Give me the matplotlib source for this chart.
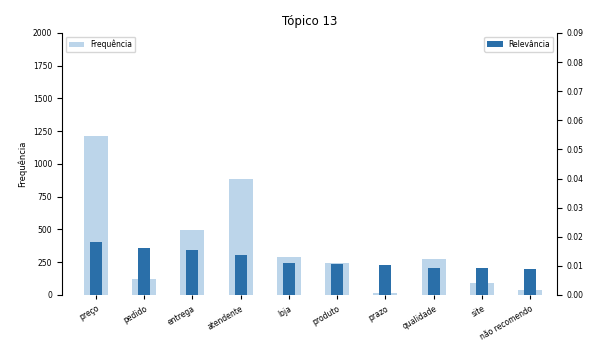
import matplotlib
matplotlib.use("Agg")
import matplotlib.pyplot as plt
import numpy as np

palavras = ["preço", "pedido", "entrega", "atendente", "loja", "produto", "prazo", "qualidade", "site", "não recomendo"]
frequencia = [1215, 120, 496, 883, 292, 242, 15, 275, 89, 38]
relevancia = [0.0183, 0.0163, 0.0155, 0.0137, 0.0109, 0.0105, 0.0102, 0.0094, 0.0092, 0.0088]
titulo = "Tópico 13"

fig = plt.figure(figsize=(5.96, 3.43), dpi=100)
ax = fig.add_axes([0.104, 0.14, 0.831, 0.764])
x = np.arange(len(palavras))
ax.bar(x, frequencia, width=0.5, color="#bcd5ea", label="Frequência")
ax.set_ylim(0, 2000)
ax.set_yticks(np.arange(0, 2001, 250))
ax.set_ylabel("Frequência", fontsize=6)
ax.set_xlim(-0.7, 9.56)
ax.set_xticks(x)
ax.set_xticklabels(palavras, rotation=30, ha="right", rotation_mode="anchor", fontsize=5.5)
ax.tick_params(axis="y", labelsize=5.5)
ax.tick_params(axis="x", length=3)
ax.spines["top"].set_visible(False)
ax.spines["bottom"].set_visible(False)
ax.spines["right"].set_visible(False)

ax2 = ax.twinx()
ax2.bar(x, relevancia, width=0.25, color="#2a6fa9", label="Relevância")
ax2.set_ylim(0, 0.09)
ax2.set_yticks(np.arange(0, 0.0901, 0.01))
ax2.set_yticklabels([f"{v:.2f}" for v in np.arange(0, 0.0901, 0.01)])
ax2.tick_params(axis="y", labelsize=5.5)
ax2.spines["top"].set_visible(False)
ax2.spines["bottom"].set_visible(False)
ax2.spines["left"].set_visible(False)

ax.legend(loc="upper left", fontsize=5.5, frameon=True)
ax2.legend(loc="upper right", fontsize=5.5, frameon=True)
ax.set_title(titulo, fontsize=8.5)

fig.savefig("out.png", dpi=100)
